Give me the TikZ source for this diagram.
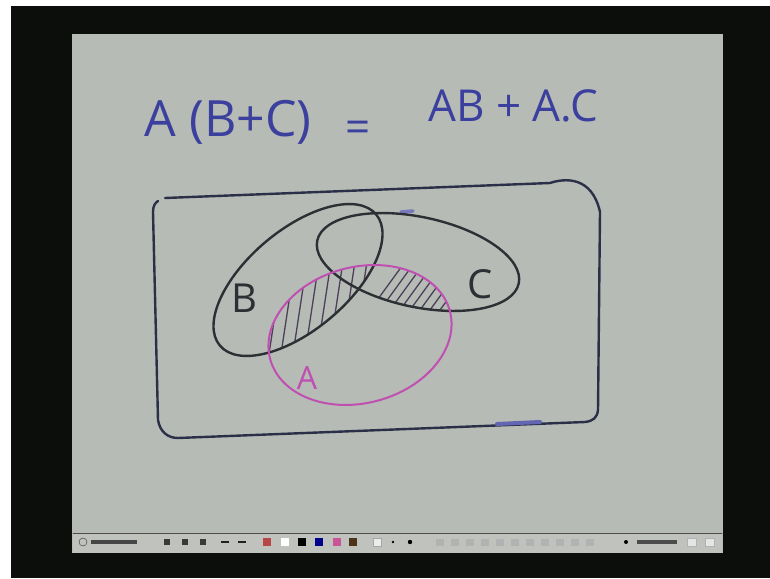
\documentclass[tikz,border=0pt]{standalone}
\usepackage{fontspec}
\setmainfont{Open Sans}
\usepackage{xcolor}
\usetikzlibrary{calc}

\definecolor{boardgrey}{HTML}{B6BBB5}
\definecolor{barfill}{HTML}{BFC2BD}
\definecolor{inkblue}{HTML}{3B3F9E}
\definecolor{inkdark}{HTML}{2C3034}
\definecolor{inkframe}{HTML}{2B2F48}
\definecolor{inkpink}{HTML}{C04FB2}
\definecolor{hatchink}{HTML}{4B4058}
\definecolor{screenblack}{HTML}{0C0E0C}

\begin{document}
\begin{tikzpicture}[
    x=1pt, y=-1pt,
    line cap=round, line join=round,
    pen/.style={line width=2.4pt},
    frame/.style={pen, color=inkframe},
    setline/.style={pen, color=inkdark},
    setA/.style={line width=2pt, color=inkpink},
    hatch/.style={line width=1.3pt, color=hatchink},
    eqtext/.style={text=inkblue, inner sep=0pt},
    setlabel/.style={inner sep=0pt, font=\fontsize{40}{40}\selectfont},
    icon/.style={inner sep=0pt, minimum width=8pt, minimum height=8pt}
]
    \useasboundingbox (0,0) rectangle (770,578);

    % Screen and board
    \fill[white] (0,0) rectangle (770,578);
    \fill[screenblack] (11,6) rectangle (770,578);
    \fill[boardgrey] (72,34) rectangle (723,553);

    % Equation
    \node[eqtext, font=\fontsize{50}{50}\selectfont] (lhs) at (228,122) {A (B+C)};
    \node[eqtext, font=\fontsize{44}{44}\selectfont] (eq) at (358,132) {=};
    \node[eqtext, font=\fontsize{44}{44}\selectfont] (rhs) at (513,106) {AB + A.C};

    % Universal set
    \draw[frame] (165,198) -- (550,183)
        .. controls (565,178) and (592,176) .. (600,212)
        -- (598,410) .. controls (597,418) and (593,421) .. (585,422)
        -- (178,438) .. controls (168,438) and (160,432) .. (158,420)
        -- (153,212) .. controls (153,206) and (155,203) .. (158,201);
    \draw[line width=4pt, color=inkblue!80] (497,424) -- (540,422);
    \draw[line width=3.5pt, color=inkblue!70] (401,212) -- (413,211);

    % Hatching A.B and A.C
    \begin{scope}
        \clip[rotate around={15:(360,335)}] (360,335) ellipse [x radius=93, y radius=68];
        \begin{scope}
            \clip[rotate around={40:(298,280)}] (298,280) ellipse [x radius=102, y radius=50];
            \foreach \hx in {262,274,...,394}
                \draw[hatch] (\hx,400) -- (\hx+22,255);
        \end{scope}
        \begin{scope}
            \clip[rotate around={-12:(418,262)}] (418,262) ellipse [x radius=103, y radius=45];
            \foreach \hx in {370,380,...,440}
                \draw[hatch] (\hx,310) -- (\hx+32,266);
        \end{scope}
    \end{scope}

    % Sets
    \draw[setline, rotate around={40:(298,280)}] (298,280) ellipse [x radius=102, y radius=50];
    \draw[setline, rotate around={-12:(418,262)}] (418,262) ellipse [x radius=103, y radius=45];
    \draw[setA, rotate around={15:(360,335)}] (360,335) ellipse [x radius=93, y radius=68];

    % Set labels
    \node[setlabel, text=inkdark] (labB) at (244,298) {B};
    \node[setlabel, text=inkdark] (labC) at (480,284) {C};
    \node[setlabel, text=inkpink, font=\fontsize{32}{32}\selectfont] (labA) at (307,378) {A};

    % Taskbar
    \fill[barfill] (73,533) rectangle (722,553);
    \draw[gray!60!black, line width=0.6pt] (73,533) -- (722,533);
    \node[icon, circle, draw=gray!40!black, minimum width=7pt] (start) at (83,542) {};
    \fill[gray!55!black] (91,540) rectangle (137,544);
    \foreach \ix in {167,185,203}
        \fill[gray!45!black] (\ix-3,539) rectangle (\ix+3,545);
    \foreach \ix in {225,242}
        \fill[gray!25!black] (\ix-4,541) rectangle (\ix+4,543);
    \node[icon, fill=red!45!gray] (pen1) at (267,542) {};
    \node[icon, fill=white] (pen2) at (285,542) {};
    \node[icon, fill=black] (pen3) at (302,542) {};
    \node[icon, fill=blue!55!black] (pen4) at (319,542) {};
    \node[icon, fill=magenta!60!gray] (pen5) at (337,542) {};
    \node[icon, fill=brown!40!black] (pen6) at (353,542) {};
    \node[icon, draw=gray!70, fill=gray!15] (box1) at (377,542) {};
    \fill[black] (393,542) circle (1.3pt);
    \fill[black] (410,542) circle (2.2pt);
    \foreach \ix in {440,455,...,590}
        \fill[gray!60] (\ix-4,539) rectangle (\ix+4,546);
    \fill[black] (626,542) circle (2pt);
    \fill[gray!60!black] (637,540) rectangle (677,544);
    \foreach \ix in {692,710}
        \node[icon, draw=gray!60, fill=gray!20, minimum width=9pt] at (\ix,542) {};
\end{tikzpicture}
\end{document}
